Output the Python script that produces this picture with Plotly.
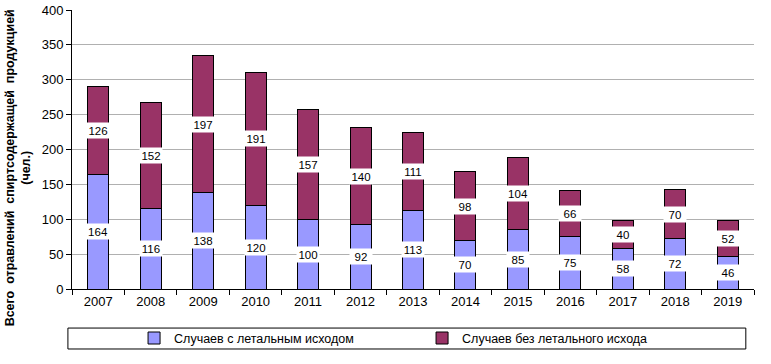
import plotly.graph_objects as go

years = ["2007", "2008", "2009", "2010", "2011", "2012", "2013", "2014", "2015", "2016", "2017", "2018", "2019"]
fatal = [164, 116, 138, 120, 100, 92, 113, 70, 85, 75, 58, 72, 46]
nonfatal = [126, 152, 197, 191, 157, 140, 111, 98, 104, 66, 40, 70, 52]
series_names = ["Случаев с летальным исходом", "Случаев без летального исхода"]
y_title = "Всего&nbsp; отравлений&nbsp; спиртсодержащей&nbsp; продукцией<br>(чел.)"

FONT = "Arial, Liberation Sans, sans-serif"
C1 = "#9999FF"
C2 = "#993366"

fig = go.Figure()
fig.add_trace(go.Bar(x=years, y=fatal, name=series_names[0], marker=dict(color=C1, line=dict(color="black", width=1))))
fig.add_trace(go.Bar(x=years, y=nonfatal, name=series_names[1], marker=dict(color=C2, line=dict(color="black", width=1))))

ann = []
for i, (a, b) in enumerate(zip(fatal, nonfatal)):
    for val, ypos in ((a, a / 2), (b, a + b / 2)):
        ann.append(dict(x=i, y=ypos, text=str(val), showarrow=False, bgcolor="white",
                        font=dict(family=FONT, size=11.5, color="black"), borderpad=0,
                        width=22, height=15))

ann.append(dict(xref="paper", yref="paper", x=-0.080, y=0.434, xanchor="center", yanchor="middle",
                text="<b>" + y_title + "</b>", textangle=-90, showarrow=False,
                font=dict(family=FONT, size=12.5, color="black")))

fig.update_layout(
    barmode="stack",
    bargap=0.6,
    width=771, height=364,
    margin=dict(l=72, r=17, t=10, b=75, autoexpand=False),
    plot_bgcolor="white", paper_bgcolor="white",
    font=dict(family=FONT, size=12, color="black"),
    annotations=ann,
    showlegend=True,
    legend=dict(orientation="h", x=0.091, y=-0.177, xanchor="left", yanchor="middle",
                traceorder="normal",
                entrywidth=243, entrywidthmode="pixels",
                font=dict(family=FONT, size=12.5, color="black"), bgcolor="rgba(0,0,0,0)",
                itemwidth=30),
    shapes=[dict(type="rect", xref="paper", yref="paper", x0=-0.006, x1=0.988, y0=-0.215, y1=-0.140,
                 line=dict(color="black", width=1), fillcolor="rgba(0,0,0,0)")],
)
fig.update_xaxes(type="category", range=[-0.5, 12.5], showline=True, linecolor="black", linewidth=1,
                 ticks="outside", tickson="boundaries", ticklen=5, tickcolor="black",
                 showgrid=False, tickfont=dict(family=FONT, size=13))
fig.update_yaxes(range=[0, 400], dtick=50, showline=True, linecolor="black", linewidth=1,
                 ticks="outside", ticklen=5, tickcolor="black",
                 showgrid=True, gridcolor="#B0B0B0", gridwidth=1, zeroline=False,
                 tickfont=dict(family=FONT, size=13))

fig.write_html("out.html", config={"displayModeBar": False},
               post_script="document.body.style.margin='0';")
